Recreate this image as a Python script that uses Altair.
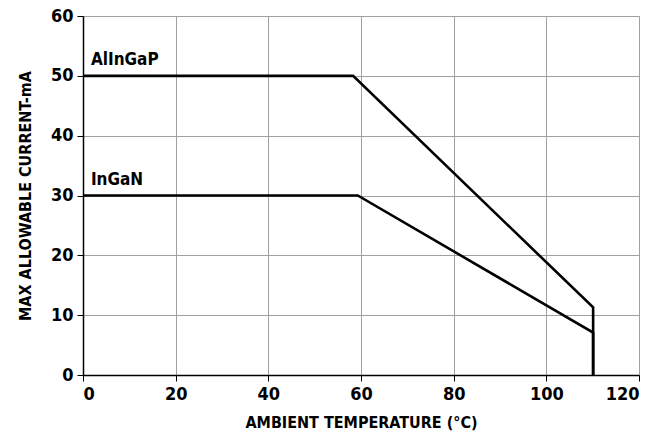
import altair as alt
import pandas as pd

alingap_x = [0, 58.3, 110.1, 110.1]
alingap_y = [50, 50, 11.3, 0]
ingan_x = [0, 59.3, 110.1, 110.1]
ingan_y = [30, 30, 7.1, 0]

label_names = ["AlInGaP", "InGaN"]
label_x = [1.7, 1.7]
label_y = [51.8, 31.7]

rows = []
for i, (x, y) in enumerate(zip(alingap_x, alingap_y)):
    rows.append({"series": "AlInGaP", "order": i, "t": x, "i": y})
for i, (x, y) in enumerate(zip(ingan_x, ingan_y)):
    rows.append({"series": "InGaN", "order": i, "t": x, "i": y})
df = pd.DataFrame(rows)
labels = pd.DataFrame({"name": label_names, "t": label_x, "i": label_y})

FONT = "'DejaVu Sans Condensed', 'Liberation Sans Narrow', 'Roboto', sans-serif"

xscale = alt.Scale(domain=[0, 120], nice=False)
yscale = alt.Scale(domain=[0, 60], nice=False)

xaxis = alt.Axis(values=[0, 20, 40, 60, 80, 100, 120], title="AMBIENT TEMPERATURE (°C)",
                 labelFontSize=18, labelFontWeight="bold", labelFont=FONT, labelColor="black",
                 titleFontSize=16, titleFontWeight="bold", titleFont=FONT, titleColor="black",
                 titlePadding=11, labelPadding=4,
                 domainColor="black", domainWidth=1.5, tickColor="black", tickSize=6,
                 gridColor="#a0a0a0", gridWidth=1)
yaxis = alt.Axis(values=[0, 10, 20, 30, 40, 50, 60], title="MAX ALLOWABLE CURRENT-mA",
                 labelFontSize=18, labelFontWeight="bold", labelFont=FONT, labelColor="black",
                 titleFontSize=16, titleFontWeight="bold", titleFont=FONT, titleColor="black",
                 titlePadding=17, labelPadding=4,
                 domainColor="black", domainWidth=1.5, tickColor="black", tickSize=6,
                 gridColor="#a0a0a0", gridWidth=1)

lines = alt.Chart(df).mark_line(color="black", strokeWidth=2.6, strokeJoin="miter").encode(
    x=alt.X("t:Q", scale=xscale, axis=xaxis),
    y=alt.Y("i:Q", scale=yscale, axis=yaxis),
    detail="series:N",
    order="order:Q",
)

text = alt.Chart(labels).mark_text(align="left", baseline="alphabetic", fontSize=17,
                                   fontWeight="bold", font=FONT, color="black").encode(
    x=alt.X("t:Q", scale=xscale),
    y=alt.Y("i:Q", scale=yscale),
    text="name:N",
)

chart = alt.layer(lines, text).properties(
    width=556, height=359,
    autosize=alt.AutoSizeParams(type="none"),
    padding={"left": 83, "top": 16, "right": 15, "bottom": 66},
).configure_view(stroke="black", strokeWidth=1.5).configure(background="white")

chart.save("out.html", embed_options={"renderer": "svg", "actions": False})
